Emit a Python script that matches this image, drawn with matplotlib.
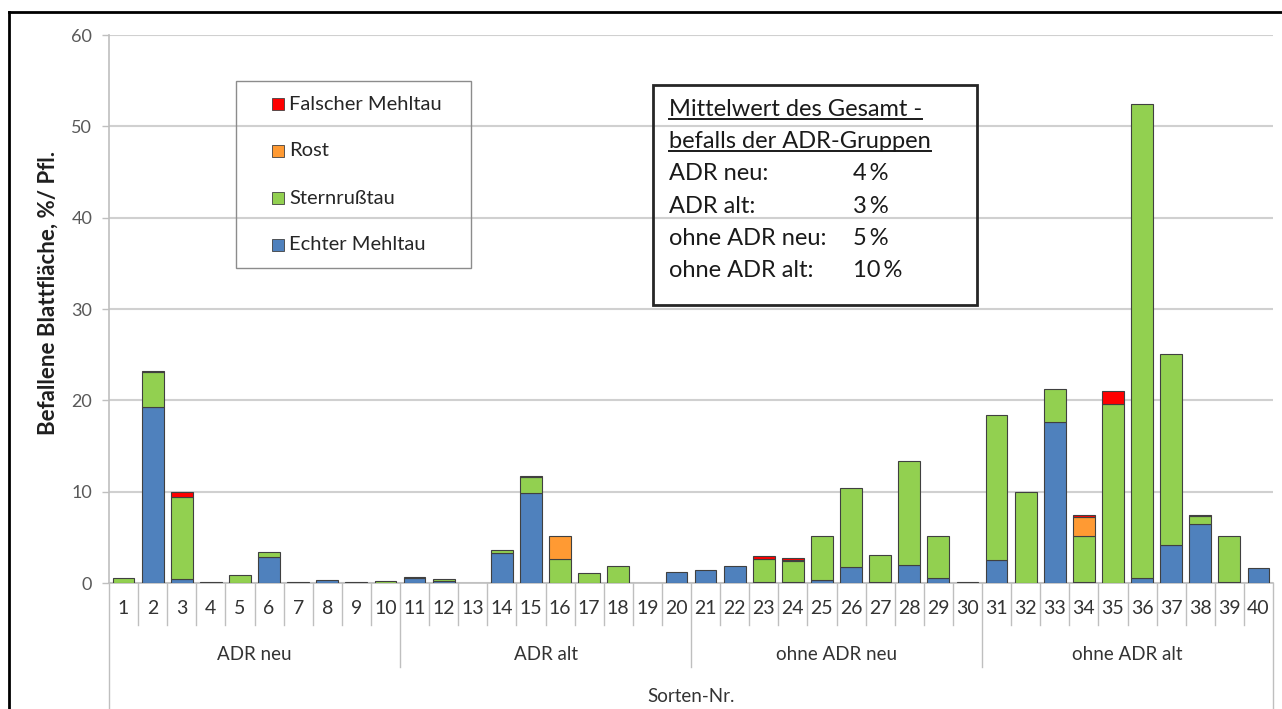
import numpy as np
import matplotlib.pyplot as plt
from matplotlib.lines import Line2D
from matplotlib.patches import Rectangle
import matplotlib.transforms as mtransforms

plt.rcParams['font.family'] = ['Lato', 'DejaVu Sans']

#%% data
sorten = [str(i) for i in range(1, 41)]
gruppen = ['ADR neu', 'ADR alt', 'ohne ADR neu', 'ohne ADR alt']
echter = [0.0, 19.3, 0.4, 0.1, 0.05, 2.9, 0.1, 0.3, 0.1, 0.05,
          0.6, 0.2, 0.0, 3.3, 9.8, 0.0, 0.0, 0.05, 0.0, 1.25,
          1.42, 1.86, 0.1, 0.1, 0.3, 1.8, 0.1, 1.95, 0.6, 0.0,
          2.5, 0.0, 17.6, 0.1, 0.0, 0.55, 4.2, 6.5, 0.15, 1.64]
stern = [0.6, 3.8, 9.05, 0.0, 0.8, 0.45, 0.0, 0.0, 0.0, 0.15,
         0.05, 0.2, 0.0, 0.3, 1.8, 2.65, 1.1, 1.85, 0.0, 0.0,
         0.0, 0.0, 2.5, 2.3, 4.8, 8.55, 3.0, 11.4, 4.6, 0.15,
         15.9, 10.0, 3.6, 5.1, 19.6, 51.95, 20.9, 0.8, 5.05, 0.0]
rost = [0.0] * 40
rost[15] = 2.55
rost[23] = 0.15
rost[33] = 2.0
falsch = [0.0] * 40
falsch[1] = 0.1
falsch[2] = 0.5
falsch[14] = 0.1
falsch[22] = 0.35
falsch[23] = 0.15
falsch[33] = 0.3
falsch[34] = 1.4
falsch[37] = 0.1
mittel_namen = ['ADR neu:', 'ADR alt:', 'ohne ADR neu:', 'ohne ADR alt:']
mittel_werte = [4, 3, 5, 10]

serien = [(echter, '#4F81BD', 'Echter Mehltau'),
          (stern, '#92D050', 'Sternrußtau'),
          (rost, '#FF9A33', 'Rost'),
          (falsch, '#FF0000', 'Falscher Mehltau')]

#%% figure
W, H = 1282, 709
fig = plt.figure(figsize=(W / 100, H / 100), dpi=100)
ax = fig.add_axes([109 / W, 1 - 583 / H, (1273 - 109) / W, (583 - 35) / H])

x = np.arange(len(sorten))
bottom = np.zeros(len(sorten))
for vals, col, lab in serien:
    v = np.array(vals)
    m = v > 0
    ax.bar(x[m], v[m], 0.75, bottom=bottom[m], color=col, edgecolor='#404040',
           linewidth=0.8, label=lab, zorder=3)
    bottom += v

ax.set_xlim(-0.5, len(sorten) - 0.5)
ax.set_ylim(0, 60)
ax.set_yticks(np.arange(0, 61, 10))
ax.grid(axis='y', color='#D0D0D0', lw=1.5, zorder=0)
for s in ['top', 'right']:
    ax.spines[s].set_visible(False)
for s in ['left', 'bottom']:
    ax.spines[s].set_color('#BFBFBF')
    ax.spines[s].set_linewidth(1.2)
ax.tick_params(axis='y', color='#BFBFBF', length=5, width=1, labelcolor='#595959',
               labelsize=13, pad=7)
ax.set_xticks(x)
ax.set_xticklabels(sorten)
ax.tick_params(axis='x', length=0, labelsize=14, labelcolor='#333333', pad=12)

# category axis separators
trans = mtransforms.blended_transform_factory(ax.transData, fig.transFigure)
for k in range(len(sorten) + 1):
    if k in (0, len(sorten)):
        y_end = 0.0
    elif k % 10 == 0:
        y_end = 1 - 667 / H
    else:
        y_end = 1 - 625 / H
    fig.add_artist(Line2D([k - 0.5, k - 0.5], [1 - 583 / H, y_end], transform=trans,
                          color='#BFBFBF', lw=1))
for g, name in enumerate(gruppen):
    ax.text(g * 10 + 4.5, 1 - 655 / H, name, transform=trans, ha='center', va='center',
            fontsize=13.5, color='#333333')
ax.text(19.5, 1 - 697 / H, 'Sorten-Nr.', transform=trans, ha='center', va='center',
        fontsize=13.5, color='#333333')

fig.text(48 / W, 1 - 293 / H, 'Befallene Blattfläche, %/ Pfl.', rotation=90,
         ha='center', va='center', fontsize=16, fontweight='bold', color='#1f1f1f')

# outer frame
fig.add_artist(Line2D([9 / W, 9 / W], [0, 1 - 12 / H], color='black', lw=2))
fig.add_artist(Line2D([9 / W, 1], [1 - 12 / H, 1 - 12 / H], color='black', lw=2))

# legend
fig.add_artist(Rectangle((236 / W, 1 - 268 / H), (471 - 236) / W, (268 - 81) / H,
                         transform=fig.transFigure, fill=False, ec='#8C8C8C', lw=1))
for i, (vals, col, lab) in enumerate(serien[::-1]):
    yc = 104 + 47 * i
    fig.add_artist(Rectangle((272 / W, 1 - (yc + 6) / H), 12 / W, 12 / H,
                             transform=fig.transFigure, fc=col, ec='#404040', lw=0.6))
    fig.text(289 / W, 1 - yc / H, lab, ha='left', va='center', fontsize=14.5,
             color='#262626')

# Mittelwert box
fig.add_artist(Rectangle((653 / W, 1 - 305 / H), (977 - 653) / W, (305 - 85) / H,
                         transform=fig.transFigure, fill=False, ec='#262626', lw=2))
titel = []
for j, t in enumerate(['Mittelwert des Gesamt -', 'befalls der ADR-Gruppen']):
    titel.append(fig.text(669 / W, 1 - (110 + 32 * j) / H, t, ha='left', va='center',
                          fontsize=17, color='#1a1a1a'))
for j, (n, w) in enumerate(zip(mittel_namen, mittel_werte)):
    yc = 174 + 32.3 * j
    fig.text(669 / W, 1 - yc / H, n, ha='left', va='center', fontsize=17, color='#1a1a1a')
    fig.text(853 / W, 1 - yc / H, f'{w}\u2009%', ha='left', va='center', fontsize=17,
             color='#1a1a1a')

fig.canvas.draw()
r = fig.canvas.get_renderer()
for t in titel:
    bb = t.get_window_extent(r)
    fig.add_artist(Line2D([bb.x0 / W, bb.x1 / W], [(bb.y0 + 2) / H] * 2,
                          color='#1a1a1a', lw=1.4))

fig.savefig('out.png', dpi=100)
